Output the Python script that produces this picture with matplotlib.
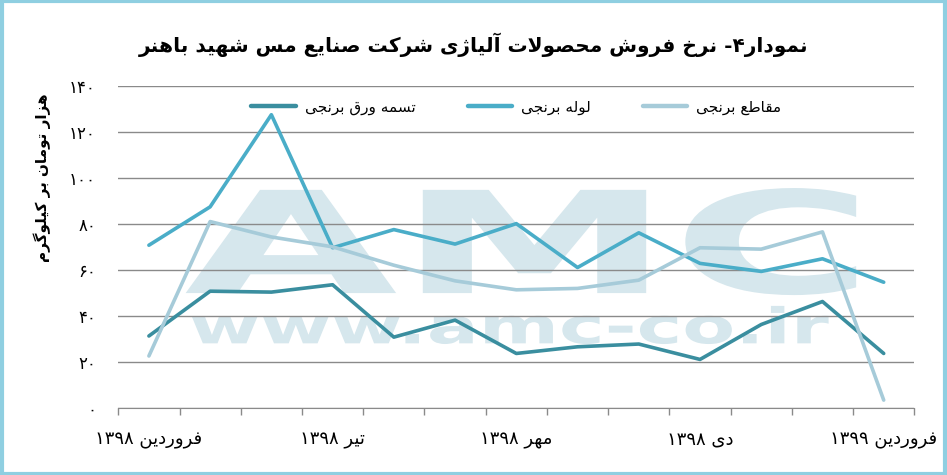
import matplotlib
matplotlib.use("Agg")
import matplotlib.pyplot as plt
from matplotlib.textpath import TextPath
from matplotlib.patches import PathPatch
from matplotlib.font_manager import FontProperties
from matplotlib.transforms import Affine2D
import numpy as np

# months Farvardin 1398 .. Farvardin 1399 (thousand toman per kg)
months = list(range(13))
tasmeh = [31.2, 50.7, 50.3, 53.5, 30.7, 38.1, 23.6, 26.5, 27.7, 21.0, 36.2, 46.2, 23.6]
looleh = [70.7, 87.4, 127.5, 69.6, 77.5, 71.2, 80.1, 61.0, 76.1, 62.8, 59.3, 64.8, 54.6]
maghate = [22.5, 81.0, 74.3, 70.0, 62.0, 55.2, 51.3, 51.9, 55.5, 69.6, 69.0, 76.5, 3.3]

series_names = ["تسمه ورق برنجی", "لوله برنجی", "مقاطع برنجی"]
title_text = "نمودار۴- نرخ فروش محصولات آلیاژی شرکت صنایع مس شهید باهنر"
ylabel_text = "هزار تومان بر کیلوگرم"
xtick_pos = [0, 3, 6, 9, 12]
xtick_labels = ["فروردین ۱۳۹۸", "تیر ۱۳۹۸", "مهر ۱۳۹۸", "دی ۱۳۹۸", "فروردین ۱۳۹۹"]
yticks = [0, 20, 40, 60, 80, 100, 120, 140]

# simple arabic shaping: (isolated, final, initial, medial)
FORMS = {
    "ا": (0xFE8D, 0xFE8E, None, None), "آ": (0xFE81, 0xFE82, None, None),
    "ب": (0xFE8F, 0xFE90, 0xFE91, 0xFE92), "ت": (0xFE95, 0xFE96, 0xFE97, 0xFE98),
    "ج": (0xFE9D, 0xFE9E, 0xFE9F, 0xFEA0), "ح": (0xFEA1, 0xFEA2, 0xFEA3, 0xFEA4),
    "خ": (0xFEA5, 0xFEA6, 0xFEA7, 0xFEA8), "د": (0xFEA9, 0xFEAA, None, None),
    "ر": (0xFEAD, 0xFEAE, None, None), "ز": (0xFEAF, 0xFEB0, None, None),
    "ژ": (0xFB8A, 0xFB8B, None, None), "س": (0xFEB1, 0xFEB2, 0xFEB3, 0xFEB4),
    "ش": (0xFEB5, 0xFEB6, 0xFEB7, 0xFEB8), "ص": (0xFEB9, 0xFEBA, 0xFEBB, 0xFEBC),
    "ط": (0xFEC1, 0xFEC2, 0xFEC3, 0xFEC4), "ع": (0xFEC9, 0xFECA, 0xFECB, 0xFECC),
    "ف": (0xFED1, 0xFED2, 0xFED3, 0xFED4), "ق": (0xFED5, 0xFED6, 0xFED7, 0xFED8),
    "ک": (0xFB8E, 0xFB8F, 0xFB90, 0xFB91), "گ": (0xFB92, 0xFB93, 0xFB94, 0xFB95),
    "ل": (0xFEDD, 0xFEDE, 0xFEDF, 0xFEE0), "م": (0xFEE1, 0xFEE2, 0xFEE3, 0xFEE4),
    "ن": (0xFEE5, 0xFEE6, 0xFEE7, 0xFEE8), "ه": (0xFEE9, 0xFEEA, 0xFEEB, 0xFEEC),
    "و": (0xFEED, 0xFEEE, None, None), "ی": (0xFBFC, 0xFBFD, 0xFBFE, 0xFBFF),
}
LAM_ALEF = {"ا": (0xFEFB, 0xFEFC), "آ": (0xFEF5, 0xFEF6)}


def dual(c):
    return c in FORMS and FORMS[c][2] is not None


def shape(text):
    out = []
    chars = list(text)
    i = 0
    while i < len(chars):
        c = chars[i]
        prev = chars[i - 1] if i > 0 else ""
        join_prev = dual(prev) and c in FORMS
        if c == "ل" and i + 1 < len(chars) and chars[i + 1] in LAM_ALEF:
            iso, fin = LAM_ALEF[chars[i + 1]]
            out.append(chr(fin if join_prev else iso))
            i += 2
            continue
        if c not in FORMS:
            out.append(c)
            i += 1
            continue
        nxt = chars[i + 1] if i + 1 < len(chars) else ""
        join_next = dual(c) and nxt in FORMS
        iso, fin, ini, med = FORMS[c]
        if join_prev and join_next:
            out.append(chr(med))
        elif join_prev:
            out.append(chr(fin))
        elif join_next:
            out.append(chr(ini))
        else:
            out.append(chr(iso))
        i += 1
    # visual order: reverse, keep digit runs left to right
    s = "".join(out)[::-1]
    res, run = [], []
    for ch in s:
        if "۰" <= ch <= "۹":
            run.append(ch)
        else:
            res.extend(run[::-1])
            run = []
            res.append(ch)
    res.extend(run[::-1])
    return "".join(res)


def fa_digits(n):
    return str(n).translate(str.maketrans("0123456789", "۰۱۲۳۴۵۶۷۸۹"))


plt.rcParams["font.family"] = ["DejaVu Sans"]

fig = plt.figure(figsize=(9.47, 4.75), dpi=100)
ax = fig.add_axes([0.1249, 0.1417, 0.8406, 0.6773])

# watermark
def watermark(text, x0, x1, y0, y1):
    tp = TextPath((0, 0), text, size=1, prop=FontProperties(family="DejaVu Sans", weight="bold"))
    ext = tp.get_extents()
    tr = Affine2D().translate(-ext.x0, -ext.y0).scale((x1 - x0) / ext.width, (y1 - y0) / ext.height).translate(x0, y0)
    ax.add_patch(PathPatch(tr.transform_path(tp), facecolor="#d6e7ed", edgecolor="none", zorder=0))

watermark("AMC", 0.6, 11.55, 49.0, 95.6)
watermark("www.amc-co.ir", 0.7, 11.1, 27.7, 44.3)

colors = ["#3a8e9f", "#4aadc8", "#a6cbd9"]
for vals, name, col in zip([tasmeh, looleh, maghate], series_names, colors):
    ax.plot(months, vals, color=col, lw=2.6, solid_capstyle="round", solid_joinstyle="round",
            label=shape(name), zorder=3)

ax.set_xlim(-0.5, 12.5)
ax.set_ylim(0, 140)
ax.set_yticks(yticks)
ax.set_yticklabels([fa_digits(v) for v in yticks], fontsize=12)
ax.yaxis.grid(True, color="#8a8a8a", lw=1)
ax.set_axisbelow(True)
ax.tick_params(axis="y", length=0, pad=16)

ax.set_xticks(np.arange(-0.5, 13, 1))
ax.set_xticklabels([])
ax.set_xticks(xtick_pos, minor=True)
ax.set_xticklabels([shape(t) for t in xtick_labels], minor=True, fontsize=13)
ax.tick_params(axis="x", which="major", length=5, color="#8a8a8a", width=1)
ax.tick_params(axis="x", which="minor", length=0, pad=17)

for side in ["left", "right", "top"]:
    ax.spines[side].set_visible(False)
ax.spines["bottom"].set_color("#8a8a8a")

leg = ax.legend(loc="upper center", bbox_to_anchor=(0.5, 1.0), ncol=3, frameon=False,
                fontsize=11, handlelength=2.9, columnspacing=3.4, handletextpad=0.6)
for line in leg.get_lines():
    line.set_linewidth(3.2)

fig.text(0.5, 1 - 45 / 475, shape(title_text), ha="center", va="center",
         fontsize=14.5, fontweight="bold")
fig.text(42 / 947, 1 - 178 / 475, shape(ylabel_text), ha="center", va="center",
         rotation=90, fontsize=11, fontweight="bold")

# light blue frame
fig.patches.append(plt.Rectangle((0.002, 0.003), 0.996, 0.994, transform=fig.transFigure,
                                 fill=False, edgecolor="#8fcfe1", lw=3))

fig.savefig("out.png", dpi=100)
